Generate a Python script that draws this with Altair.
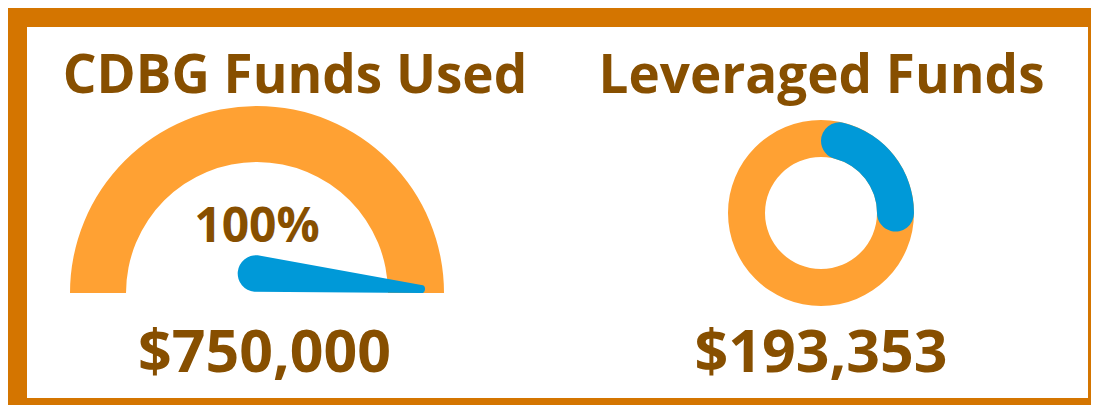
import math
import altair as alt
import pandas as pd

# ---- data ----
titles = ["CDBG Funds Used", "Leveraged Funds"]
amounts = ["$750,000", "$193,353"]
gauge_label = ["100%"]
gauge_value = [100]        # percent of CDBG funds used
donut_share = [0.29]       # blue share of the leveraged-funds ring

# ---- styles ----
BROWN = "#874F00"
ORANGE = "#FFA133"
BLUE = "#0099D8"
FRAME = "#D47500"
FONT = "Open Sans"

W, H = 1061, 371
g_cx, g_cy, g_ro, g_ri = 230, 266, 187, 131      # gauge centre / radii
d_cx, d_cy, d_ro, d_ri = 794, 186, 93, 56        # donut centre / radii

X = lambda f: alt.X(f, type="quantitative", scale=None, axis=None)
Y = lambda f: alt.Y(f, type="quantitative", scale=None, axis=None)

# gauge track (half ring)
track_df = pd.DataFrame({"cx": [g_cx], "cy": [g_cy],
                         "t0": [1.5 * math.pi], "t1": [2.5 * math.pi]})
track = alt.Chart(track_df).mark_arc(radius=g_ro, radius2=g_ri, color=ORANGE).encode(
    x=X("cx"), y=Y("cy"),
    theta=alt.Theta("t0:Q", scale=None), theta2=alt.Theta2("t1"))

# needle
a = math.pi * (1 - gauge_value[0] / 100)
needle_len = 164
needle_df = pd.DataFrame({
    "x": [g_cx - 1, g_cx + needle_len * math.cos(a)],
    "y": [g_cy - 19.5, g_cy - needle_len * math.sin(a) - 4],
    "w": [36.6, 8],
    "o": [0, 1],
})
needle = alt.Chart(needle_df).mark_trail(color=BLUE).encode(
    x=X("x"), y=Y("y"), size=alt.Size("w:Q", scale=None, legend=None),
    order=alt.Order("o:Q"))

# donut
ring_df = pd.DataFrame({"cx": [d_cx], "cy": [d_cy], "t0": [0.0], "t1": [2 * math.pi]})
ring = alt.Chart(ring_df).mark_arc(radius=d_ro, radius2=d_ri, color=ORANGE).encode(
    x=X("cx"), y=Y("cy"),
    theta=alt.Theta("t0:Q", scale=None), theta2=alt.Theta2("t1"))

share_df = pd.DataFrame({"cx": [d_cx], "cy": [d_cy], "t0": [0.0],
                         "t1": [2 * math.pi * donut_share[0]]})
share = alt.Chart(share_df).mark_arc(radius=d_ro, radius2=d_ri, color=BLUE,
                                     cornerRadius=18.5).encode(
    x=X("cx"), y=Y("cy"),
    theta=alt.Theta("t0:Q", scale=None), theta2=alt.Theta2("t1"))

# texts
title_df = pd.DataFrame({"t": titles, "x": [268, 794.5], "y": [66, 66]})
title_txt = alt.Chart(title_df).mark_text(font=FONT, fontWeight="bold", fontSize=53,
                                          color=BROWN, baseline="alphabetic",
                                          align="center").encode(
    x=X("x"), y=Y("y"), text="t:N")

amt_df = pd.DataFrame({"t": amounts, "x": [237.5, 794], "y": [345, 345]})
amt_txt = alt.Chart(amt_df).mark_text(font=FONT, fontWeight="bold", fontSize=59,
                                      color=BROWN, baseline="alphabetic",
                                      align="center").encode(
    x=X("x"), y=Y("y"), text="t:N")

pct_df = pd.DataFrame({"t": gauge_label, "x": [g_cx], "y": [215]})
pct_txt = alt.Chart(pct_df).mark_text(font=FONT, fontWeight="bold", fontSize=48,
                                      color=BROWN, baseline="alphabetic",
                                      align="center").encode(
    x=X("x"), y=Y("y"), text="t:N")

chart = alt.layer(track, needle, ring, share, title_txt, amt_txt, pct_txt).properties(
    width=W, height=H,
    autosize=alt.AutoSizeParams(type="none"),
    padding={"left": 19, "top": 19, "right": 3, "bottom": 7},
    background=FRAME,
).configure_view(fill="white", strokeWidth=0)

chart.save("out.html", embed_options={"renderer": "svg", "actions": False})
